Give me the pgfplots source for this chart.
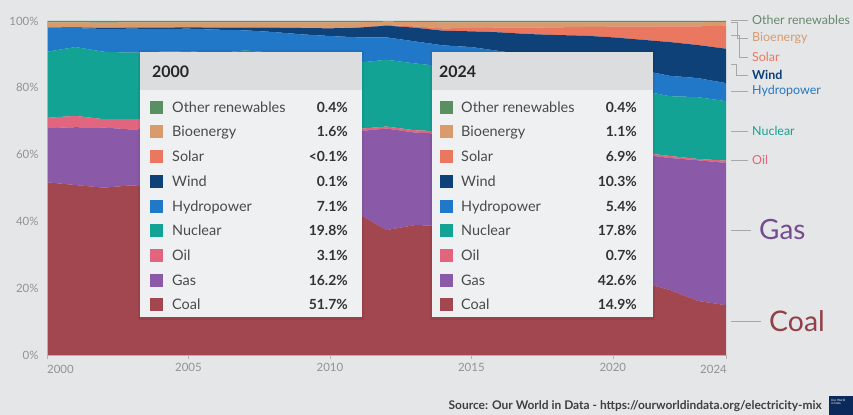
\documentclass[border=0pt]{standalone}
\usepackage{fontspec}
\setmainfont{Lato}
\usepackage{pgfplots}
\pgfplotsset{compat=1.18}
\usepackage{pgfplotstable}

\definecolor{bg}{HTML}{E5E6E8}
\definecolor{boxbg}{HTML}{EFF0F1}
\definecolor{hdr}{HTML}{DCDDDF}
\definecolor{cCoal}{HTML}{A2464F}
\definecolor{cGas}{HTML}{8A5AA8}
\definecolor{cOil}{HTML}{E2657F}
\definecolor{cNuc}{HTML}{12A394}
\definecolor{cHyd}{HTML}{2278C8}
\definecolor{cWind}{HTML}{0D4177}
\definecolor{cSolar}{HTML}{EA7860}
\definecolor{cBio}{HTML}{D99A6C}
\definecolor{cOther}{HTML}{5A8F63}
\definecolor{tick}{HTML}{939393}
\definecolor{lbl}{HTML}{4A4A4A}
\definecolor{val}{HTML}{333333}
\definecolor{lead}{HTML}{A8A8A8}
\definecolor{logo}{HTML}{0B2A5B}

\pgfplotstableread{
year coal gas oil nuclear hydro wind solar bio other
2000 51.7 16.2 3.1 19.8 7.1 0.1 0.0 1.6 0.4
2001 50.9 17.3 3.4 20.6 5.7 0.2 0.0 1.5 0.4
2002 50.1 18.0 2.5 20.2 6.8 0.3 0.0 1.6 0.5
2003 50.8 16.7 3.1 19.9 7.2 0.3 0.0 1.6 0.4
2004 50.0 17.9 3.0 19.9 6.8 0.4 0.0 1.6 0.4
2005 49.6 19.1 3.0 19.3 6.7 0.4 0.0 1.5 0.4
2006 49.0 20.3 1.6 19.4 7.1 0.6 0.0 1.6 0.4
2007 48.5 21.7 1.6 19.4 6.0 0.8 0.0 1.6 0.4
2008 48.2 21.6 1.1 19.6 6.2 1.3 0.0 1.6 0.4
2009 44.5 23.4 1.0 20.2 6.9 1.9 0.0 1.7 0.4
2010 44.8 23.9 0.9 19.6 6.3 2.3 0.1 1.7 0.4
2011 42.3 24.7 0.7 19.8 7.6 2.9 0.1 1.5 0.4
2012 37.4 30.4 0.6 20.0 6.7 3.5 0.2 1.0 0.2
2013 38.9 27.7 0.7 20.0 6.6 4.1 0.4 1.3 0.3
2014 38.7 27.5 0.7 19.5 6.3 4.4 0.7 1.8 0.4
2015 33.2 32.7 0.7 19.5 6.1 4.7 1.0 1.7 0.4
2016 30.4 33.8 0.6 19.7 6.5 5.6 1.4 1.6 0.4
2017 30.0 31.9 0.5 20.0 7.4 6.3 1.9 1.6 0.4
2018 27.4 35.3 0.6 19.1 6.9 6.5 2.3 1.5 0.4
2019 23.5 38.5 0.5 19.4 6.6 7.1 2.6 1.4 0.4
2020 19.3 40.4 0.5 19.5 7.1 8.3 3.2 1.3 0.4
2021 21.8 38.3 0.5 18.6 6.1 9.1 3.9 1.3 0.4
2022 19.5 39.5 0.6 17.9 6.1 10.1 4.7 1.2 0.4
2023 16.2 42.1 0.4 18.5 5.7 9.9 5.6 1.2 0.4
2024 14.9 42.6 0.7 17.8 5.4 10.3 6.9 1.1 0.3
}\mix

\newcommand{\trow}[7]{%
  \fill[#5] (#1-6.5,#4-6.5) rectangle (#1+6.5,#4+6.5);
  \node[anchor=base west, inner sep=0pt, text=lbl, font=\fontsize{14.5}{15}\selectfont] at (#2,#4+5) {#6};
  \node[anchor=base east, inner sep=0pt, text=val, font=\fontsize{14}{15}\selectfont\bfseries] at (#3,#4+5) {#7};
}

\begin{document}
\begin{tikzpicture}
\fill[bg] (0,0) rectangle (853bp,415bp);
\useasboundingbox (0,0) rectangle (853bp,415bp);
\begin{axis}[
  at={(47bp,60bp)}, anchor=south west,
  scale only axis, width=679bp, height=334bp,
  xmin=2000, xmax=2024, ymin=0, ymax=100,
  stack plots=y,
  axis lines*=left,
  axis line style={draw=tick!70, line width=0.6pt},
  xtick={2005,2010,2015,2020},
  extra x ticks={2000,2024}, extra x tick labels={},
  tick align=outside,
  major tick length=4bp,
  xtick style={draw=tick!70},
  ytick={0,20,40,60,80,100},
  ytick style={draw=none},
  yticklabel={\pgfmathprintnumber{\tick}\%},
  /pgf/number format/assume math mode=true,
  /pgf/number format/1000 sep={},
  ticklabel style={font=\fontsize{11.5}{12}\selectfont, text=tick},
  xticklabel style={yshift=-1bp},
  yticklabel style={xshift=-1bp},
  axis on top,
]
\addplot[fill=cCoal, draw=none] table[x=year,y=coal]{\mix} \closedcycle;
\addplot[fill=cGas, draw=none] table[x=year,y=gas]{\mix} \closedcycle;
\addplot[fill=cOil, draw=none] table[x=year,y=oil]{\mix} \closedcycle;
\addplot[fill=cNuc, draw=none] table[x=year,y=nuclear]{\mix} \closedcycle;
\addplot[fill=cHyd, draw=none] table[x=year,y=hydro]{\mix} \closedcycle;
\addplot[fill=cWind, draw=none] table[x=year,y=wind]{\mix} \closedcycle;
\addplot[fill=cSolar, draw=none] table[x=year,y=solar]{\mix} \closedcycle;
\addplot[fill=cBio, draw=none] table[x=year,y=bio]{\mix} \closedcycle;
\addplot[fill=cOther, draw=none] table[x=year,y=other]{\mix} \closedcycle;
\end{axis}

\begin{scope}[x=1bp, y=-1bp, shift={(0,415bp)}]
% end year labels
\node[anchor=base west, inner sep=0pt, text=tick, font=\fontsize{11.5}{12}\selectfont] at (47,374) {2000};
\node[anchor=base east, inner sep=0pt, text=tick, font=\fontsize{11.5}{12}\selectfont] at (727,374) {2024};

% tooltip 2000
\fill[black, opacity=0.06] (138,50) rectangle (364,320);
\fill[boxbg] (140,52) rectangle (362,317);
\fill[hdr] (140,52) rectangle (362,90);
\node[anchor=base west, inner sep=0pt, font=\fontsize{16}{16}\selectfont\bfseries, text=black!85] at (152,78) {2000};
\trow{156.5}{172}{348}{108}{cOther}{Other renewables}{0.4\%}
\trow{156.5}{172}{348}{132}{cBio}{Bioenergy}{1.6\%}
\trow{156.5}{172}{348}{157}{cSolar}{Solar}{<0.1\%}
\trow{156.5}{172}{348}{182}{cWind}{Wind}{0.1\%}
\trow{156.5}{172}{348}{207}{cHyd}{Hydropower}{7.1\%}
\trow{156.5}{172}{348}{231}{cNuc}{Nuclear}{19.8\%}
\trow{156.5}{172}{348}{256}{cOil}{Oil}{3.1\%}
\trow{156.5}{172}{348}{281}{cGas}{Gas}{16.2\%}
\trow{156.5}{172}{348}{305}{cCoal}{Coal}{51.7\%}

% tooltip 2024
\fill[black, opacity=0.06] (430,50) rectangle (655,320);
\fill[boxbg] (432,52) rectangle (653,317);
\fill[hdr] (432,52) rectangle (653,90);
\node[anchor=base west, inner sep=0pt, font=\fontsize{16}{16}\selectfont\bfseries, text=black!85] at (439,78) {2024};
\trow{446}{461}{637}{108}{cOther}{Other renewables}{0.4\%}
\trow{446}{461}{637}{132}{cBio}{Bioenergy}{1.1\%}
\trow{446}{461}{637}{157}{cSolar}{Solar}{6.9\%}
\trow{446}{461}{637}{182}{cWind}{Wind}{10.3\%}
\trow{446}{461}{637}{207}{cHyd}{Hydropower}{5.4\%}
\trow{446}{461}{637}{231}{cNuc}{Nuclear}{17.8\%}
\trow{446}{461}{637}{256}{cOil}{Oil}{0.7\%}
\trow{446}{461}{637}{281}{cGas}{Gas}{42.6\%}
\trow{446}{461}{637}{305}{cCoal}{Coal}{14.9\%}

% right-hand labels
\begin{scope}[draw=lead, line width=0.6pt]
\draw (731,20)--(748,20);
\draw (731,22)--(737,22)--(737,38)--(748,38);
\draw (731,35)--(739,35)--(739,57)--(748,57);
\draw (731,64)--(736,64)--(736,75)--(748,75);
\draw (731,91)--(748,91);
\draw (731,131)--(748,131);
\draw (731,160)--(748,160);
\draw (731,230)--(751,230);
\draw (731,321)--(761,321);
\end{scope}
\begin{scope}[every node/.style={anchor=west, inner sep=0pt, font=\fontsize{12.5}{13}\selectfont}]
\node[text=cOther!70!gray] at (752,20) {Other renewables};
\node[text=cBio] at (752,38) {Bioenergy};
\node[text=cSolar] at (752,57) {Solar};
\node[text=cWind, font=\fontsize{12.5}{13}\selectfont\bfseries] at (752,75) {Wind};
\node[text=cHyd] at (752,91) {Hydropower};
\node[text=cNuc] at (752,131) {Nuclear};
\node[text=cOil] at (752,160) {Oil};
\node[text=cGas!85!black, font=\fontsize{28}{28}\selectfont] at (759,230) {Gas};
\node[text=cCoal!90!black, font=\fontsize{28.5}{29}\selectfont] at (769,321) {Coal};
\end{scope}

% source
\node[anchor=base east, inner sep=0pt, text=black!75, font=\fontsize{12}{13}\selectfont\bfseries] at (822,410) {Source: Our World in Data - https://ourworldindata.org/electricity-mix};
\fill[logo] (829,396) rectangle (853,415);
\node[align=left, inner sep=0pt, text=white, font=\fontsize{3}{3.5}\selectfont, anchor=north west] at (831,399) {Our World\\in Data};
\end{scope}
\end{tikzpicture}
\end{document}
